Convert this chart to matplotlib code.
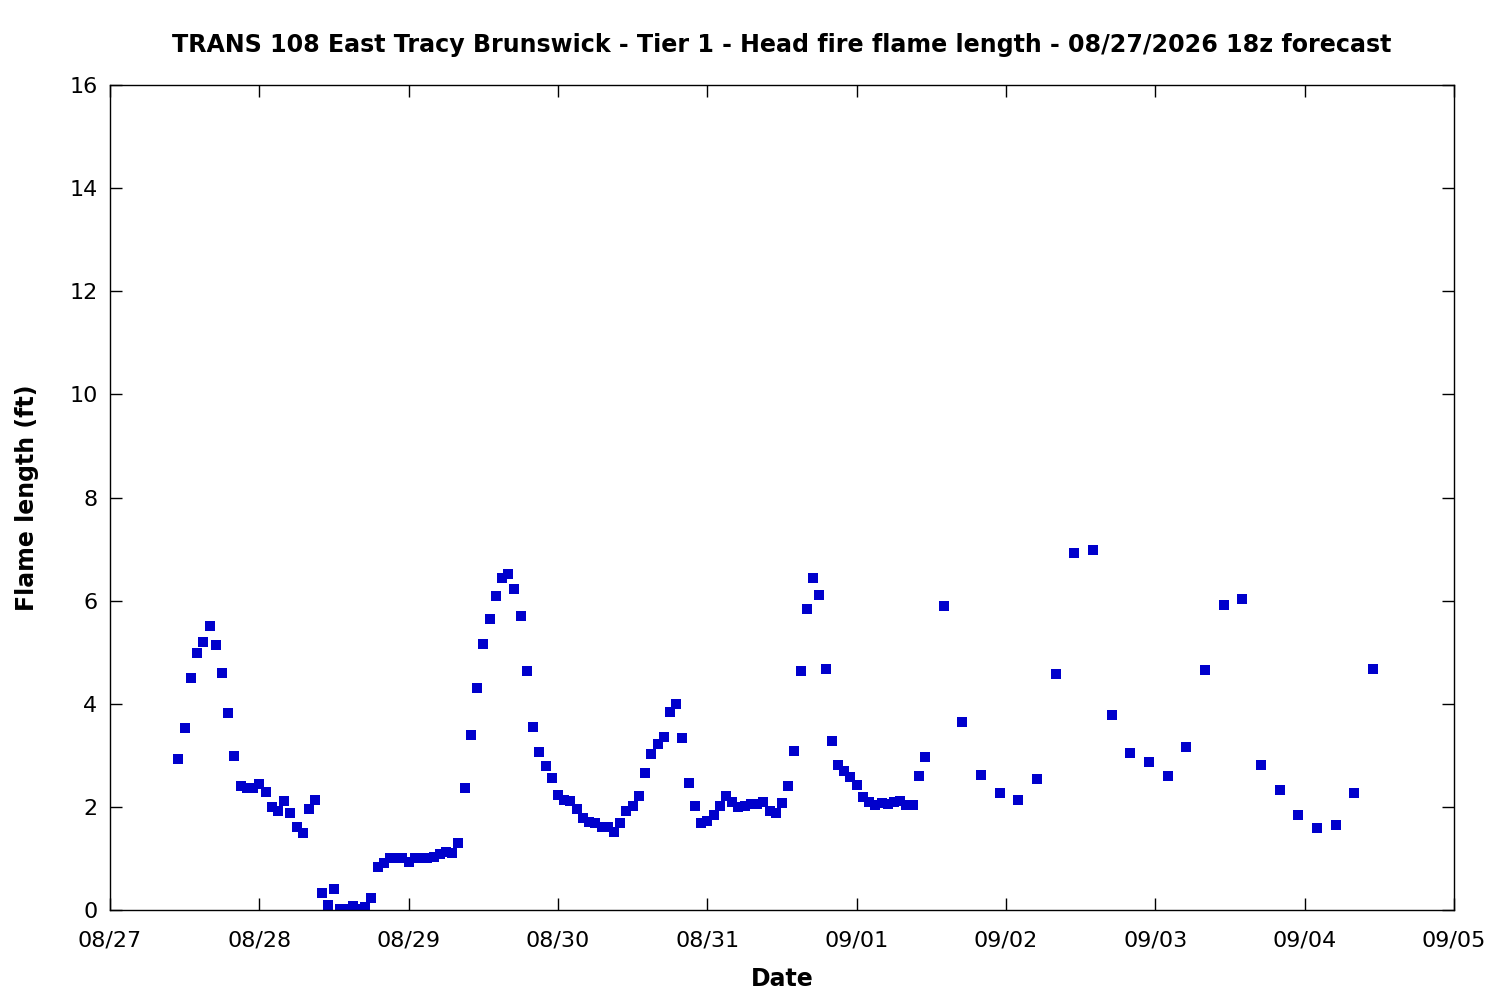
import pandas as pd
import matplotlib
matplotlib.use("Agg")
import matplotlib.pyplot as plt
import matplotlib.dates as mdates

# hourly forecast values (ft), 08/27 11:00 -> 09/01 11:00
hourly_flame = [
    2.93, 3.53, 4.50, 4.98, 5.20, 5.51, 5.14, 4.60, 3.82, 2.99,
    2.40, 2.37, 2.37, 2.44, 2.29, 2.00, 1.92, 2.11, 1.88, 1.61,
    1.49, 1.96, 2.13, 0.33, 0.10, 0.41, 0.02, 0.02, 0.07, 0.01,
    0.06, 0.23, 0.83, 0.91, 1.00, 1.00, 1.00, 0.94, 1.00, 1.00,
    1.00, 1.03, 1.09, 1.12, 1.10, 1.30, 2.37, 3.39, 4.31, 5.16,
    5.64, 6.09, 6.44, 6.52, 6.23, 5.70, 4.64, 3.55, 3.06, 2.79,
    2.56, 2.23, 2.13, 2.11, 1.96, 1.78, 1.71, 1.69, 1.61, 1.61,
    1.51, 1.69, 1.92, 2.02, 2.21, 2.66, 3.03, 3.22, 3.36, 3.84,
    4.00, 3.34, 2.46, 2.02, 1.69, 1.73, 1.84, 2.02, 2.21, 2.09,
    2.00, 2.02, 2.06, 2.06, 2.09, 1.92, 1.88, 2.08, 2.40, 3.08,
    4.64, 5.84, 6.44, 6.11, 4.67, 3.28, 2.81, 2.70, 2.58, 2.42,
    2.19, 2.09, 2.04, 2.08, 2.06, 2.09, 2.11, 2.04, 2.04, 2.60,
    2.97,
]

# 3-hourly forecast values (ft), 09/01 14:00 -> 09/04 11:00
threehourly_flame = [
    5.89, 3.64, 2.61, 2.26, 2.13, 2.55, 4.57, 6.92, 6.98, 3.78,
    3.04, 2.88, 2.59, 3.17, 4.65, 5.91, 6.03, 2.81, 2.32, 1.84,
    1.60, 1.64, 2.26, 4.67,
]

hourly_times = pd.date_range("2026-08-27 11:00", periods=len(hourly_flame), freq="h")
threehourly_times = pd.date_range("2026-09-01 14:00", periods=len(threehourly_flame), freq="3h")

times = list(hourly_times) + list(threehourly_times)
flame = hourly_flame + threehourly_flame

title = "TRANS 108 East Tracy Brunswick - Tier 1 - Head fire flame length - 08/27/2026 18z forecast"

fig = plt.figure(figsize=(15, 10), dpi=100)
ax = fig.add_axes([0.0733, 0.09, 0.896, 0.825])

ax.plot(times, flame, linestyle="none", marker="s", markersize=6.8,
        color="#0000cc", markeredgewidth=0)

ax.set_xlim(pd.Timestamp("2026-08-27"), pd.Timestamp("2026-09-05"))
ax.set_ylim(0, 16)
ax.set_yticks(range(0, 17, 2))
ax.xaxis.set_major_locator(mdates.DayLocator())
ax.xaxis.set_major_formatter(mdates.DateFormatter("%m/%d"))

ax.tick_params(direction="in", length=8.5, width=1, labelsize=16,
               top=True, right=True, pad=9)
ax.tick_params(axis="x", pad=15)
for s in ax.spines.values():
    s.set_linewidth(1)

ax.set_title(title, fontsize=17.1, fontweight="bold", pad=24)
ax.set_xlabel("Date", fontsize=17, fontweight="bold", labelpad=12)
ax.set_ylabel("Flame length (ft)", fontsize=17, fontweight="bold", labelpad=22)

fig.savefig("out.png", dpi=100)
